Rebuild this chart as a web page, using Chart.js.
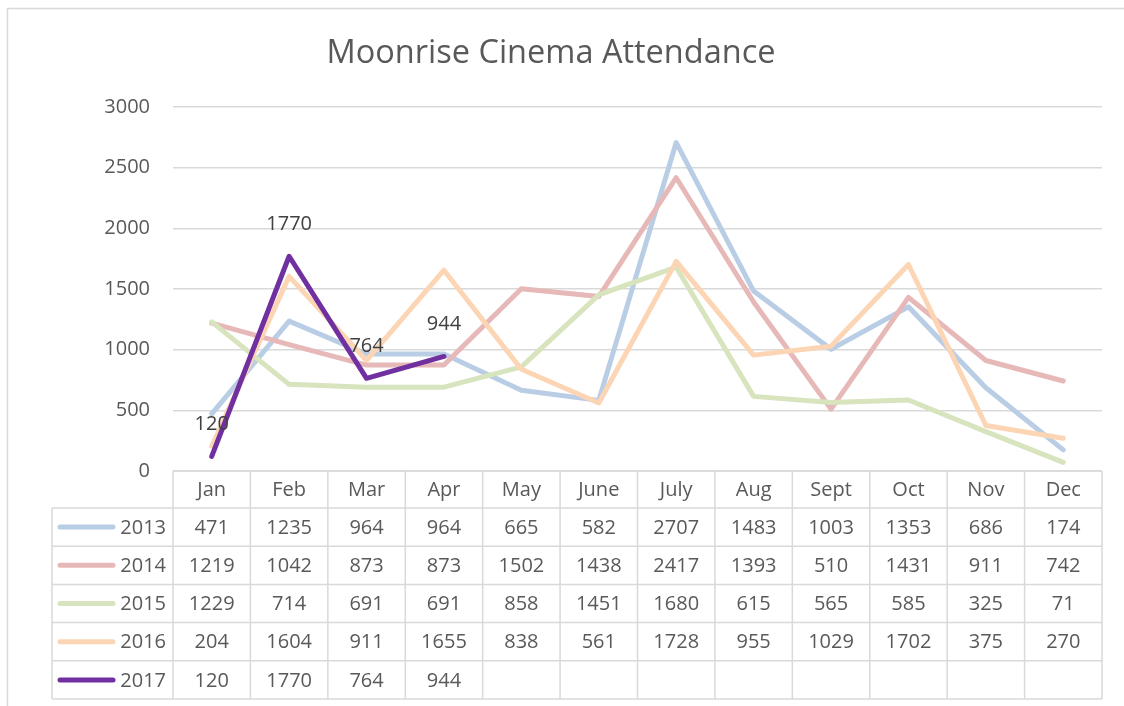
<!DOCTYPE html>
<html>
<head>
<meta charset="utf-8">
<title>Moonrise Cinema Attendance</title>
<script src="https://cdn.jsdelivr.net/npm/chart.js@4.4.1/dist/chart.umd.min.js"></script>
<style>
  html, body { margin: 0; padding: 0; background: #fff; }
  #wrap { position: relative; width: 1124px; height: 706px; }
</style>
</head>
<body>
<div id="wrap"><canvas id="att"></canvas></div>
<script>
  const months = ["Jan", "Feb", "Mar", "Apr", "May", "June", "July", "Aug", "Sept", "Oct", "Nov", "Dec"];
  const years = ["2013", "2014", "2015", "2016", "2017"];
  const y2013 = [471, 1235, 964, 964, 665, 582, 2707, 1483, 1003, 1353, 686, 174];
  const y2014 = [1219, 1042, 873, 873, 1502, 1438, 2417, 1393, 510, 1431, 911, 742];
  const y2015 = [1229, 714, 691, 691, 858, 1451, 1680, 615, 565, 585, 325, 71];
  const y2016 = [204, 1604, 911, 1655, 838, 561, 1728, 955, 1029, 1702, 375, 270];
  const y2017 = [120, 1770, 764, 944, null, null, null, null, null, null, null, null];
  const yTicks = [0, 500, 1000, 1500, 2000, 2500, 3000];

  const COLS = ["#b9cde5", "#e6b9b8", "#d7e4bd", "#fcd5b5", "#7030a0"];
  const TXT = "#595959", GRID = "#d9d9d9";
  const FONT = "'Open Sans', Lato, sans-serif";
  Chart.defaults.font.family = FONT;
  Chart.defaults.color = TXT;

  const series = [y2013, y2014, y2015, y2016, y2017];

  // frame + data table under the plot, Excel style
  const tablePlugin = {
    id: "dataTable",
    beforeDraw(chart) {
      const c = chart.ctx;
      c.save();
      c.strokeStyle = GRID; c.lineWidth = 1.5;
      c.strokeRect(7.5, 8.5, 1140, 720);
      c.restore();
    },
    afterDraw(chart) {
      const c = chart.ctx, x = chart.scales.x, a = chart.chartArea;
      const colW = (a.right - a.left) / months.length;
      const top = a.bottom, headH = 37, rowH = 38.2, legL = 52;
      const bottom = top + headH + rowH * years.length;
      c.save();
      c.strokeStyle = GRID; c.lineWidth = 1.5;
      c.beginPath();
      // horizontal rules
      c.moveTo(a.left, top); c.lineTo(a.right, top);
      for (let r = 0; r <= years.length; r++) {
        const yy = top + headH + r * rowH;
        c.moveTo(legL, yy); c.lineTo(a.right, yy);
      }
      // vertical rules
      for (let i = 0; i <= months.length; i++) {
        const xx = a.left + i * colW;
        c.moveTo(xx, top); c.lineTo(xx, bottom);
      }
      c.moveTo(legL, top + headH); c.lineTo(legL, bottom);
      c.stroke();

      c.fillStyle = TXT;
      c.font = "20px " + FONT;
      c.textAlign = "center"; c.textBaseline = "middle";
      months.forEach((m, i) => c.fillText(m, x.getPixelForValue(i), top + headH / 2 + 1));
      series.forEach((s, r) => {
        const cy = top + headH + r * rowH + rowH / 2 + 1;
        s.forEach((v, i) => { if (v !== null) c.fillText(String(v), x.getPixelForValue(i), cy); });
        // legend key
        c.strokeStyle = COLS[r]; c.lineWidth = 5; c.lineCap = "round";
        c.beginPath(); c.moveTo(60, cy - 1); c.lineTo(113, cy - 1); c.stroke();
        c.textAlign = "right";
        c.fillText(years[r], 166, cy);
        c.textAlign = "center";
      });
      c.restore();
    },
    afterDatasetsDraw(chart) {
      // value labels on the 2017 line only
      const c = chart.ctx, meta = chart.getDatasetMeta(4);
      c.save();
      c.fillStyle = "#404040";
      c.font = "20px " + FONT;
      c.textAlign = "center"; c.textBaseline = "middle";
      meta.data.forEach((p, i) => {
        if (y2017[i] === null) return;
        c.fillText(String(y2017[i]), p.x, p.y - 32);
      });
      c.restore();
    }
  };

  new Chart(document.getElementById("att"), {
    type: "line",
    data: {
      labels: months,
      datasets: series.map((s, i) => ({
        label: years[i], data: s, borderColor: COLS[i], backgroundColor: COLS[i],
        borderWidth: 5, pointRadius: 0, tension: 0, spanGaps: false,
        borderCapStyle: "round", borderJoinStyle: "round", order: years.length - i
      }))
    },
    options: {
      responsive: true, maintainAspectRatio: false, animation: false,
      layout: { padding: { left: 0, right: 22, top: 4, bottom: 235 } },
      plugins: {
        legend: { display: false },
        tooltip: { enabled: false },
        title: { display: true, text: "Moonrise Cinema Attendance", color: TXT, font: { size: 32.5, weight: "normal" }, padding: { top: 30, bottom: 34 } }
      },
      scales: {
        x: { display: false, offset: true },
        y: {
          min: 0, max: 3000,
          afterBuildTicks: ax => { ax.ticks = yTicks.map(v => ({ value: v })); },
          afterFit: ax => { ax.width = 173; },
          grid: { color: GRID, lineWidth: 1.5, drawTicks: false },
          border: { display: false },
          ticks: { color: TXT, font: { size: 20 }, padding: 23, callback: v => String(v) }
        }
      }
    },
    plugins: [tablePlugin]
  });
</script>
</body>
</html>
